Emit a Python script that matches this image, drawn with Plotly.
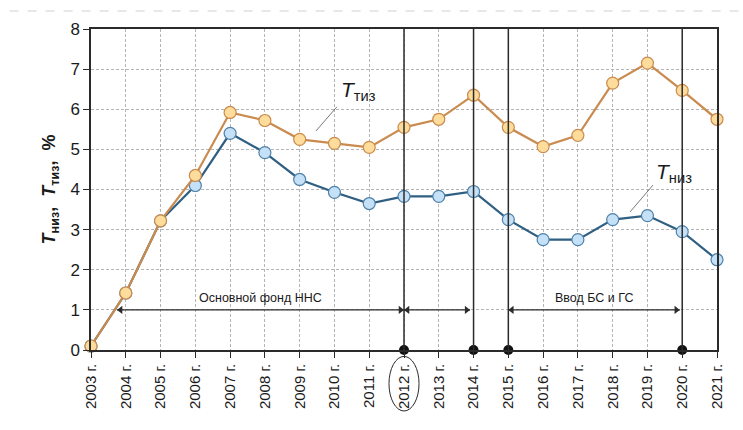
import plotly.graph_objects as go

# Годы и значения показателей, %
years = list(range(2003, 2022))
year_labels = [f"{y} г." for y in years]
t_tiz = [0.1, 1.42, 3.22, 4.35, 5.92, 5.72, 5.25, 5.15, 5.05, 5.55,
         5.75, 6.35, 5.55, 5.07, 5.35, 6.65, 7.15, 6.47, 5.75]
t_niz = [0.1, 1.42, 3.22, 4.1, 5.4, 4.92, 4.25, 3.93, 3.65, 3.83,
         3.83, 3.95, 3.25, 2.75, 2.75, 3.25, 3.35, 2.95, 2.25]
y_ticks = list(range(0, 9))

# Границы периодов разработки
milestones = [2012, 2014, 2015, 2020]
periods = [
    {"start": 2003.75, "end": 2012, "label": "Основной фонд ННС"},
    {"start": 2012, "end": 2013.9, "label": ""},
    {"start": 2015, "end": 2019.93, "label": "Ввод БС и ГС"},
]
period_arrow_level = 1.0
period_label_level = 1.3

FONT = "Liberation Sans, Arial, sans-serif"
DARK = "#2b2b2b"
ARROW_TIP = 0.1  # половина ширины наконечника в единицах оси X

fig = go.Figure()

fig.add_trace(go.Scatter(
    x=years, y=t_niz, mode="lines+markers", cliponaxis=False,
    line=dict(color="#2f5f82", width=2.2),
    marker=dict(size=12, color="#c5e1f7", line=dict(color="#4f80a8", width=1.2)),
    showlegend=False,
))
fig.add_trace(go.Scatter(
    x=years, y=t_tiz, mode="lines+markers", cliponaxis=False,
    line=dict(color="#c98b4e", width=2.2),
    marker=dict(size=12, color="#fddc9c", line=dict(color="#c98b4e", width=1.2)),
    showlegend=False,
))

# Вертикальные границы периодов и точки на оси
for yr in milestones:
    fig.add_shape(type="line", xref="x", yref="y", x0=yr, x1=yr, y0=0, y1=8,
                  line=dict(color=DARK, width=1.5), layer="above")
fig.add_trace(go.Scatter(
    x=milestones, y=[0] * len(milestones), mode="markers", cliponaxis=False,
    marker=dict(size=10, color="#111111"), showlegend=False,
))

# Двусторонние стрелки периодов и подписи
for p in periods:
    fig.add_trace(go.Scatter(
        x=[p["start"], p["end"]], y=[period_arrow_level] * 2, mode="lines",
        line=dict(color=DARK, width=1.1), showlegend=False, hoverinfo="skip",
    ))
    fig.add_trace(go.Scatter(
        x=[p["start"] + ARROW_TIP, p["end"] - ARROW_TIP], y=[period_arrow_level] * 2,
        mode="markers", showlegend=False, hoverinfo="skip",
        marker=dict(symbol=["triangle-left", "triangle-right"], size=7, color=DARK,
                    line=dict(width=0)),
    ))
    if p["label"]:
        fig.add_annotation(
            x=(p["start"] + p["end"]) / 2, y=period_label_level, xref="x", yref="y",
            text=p["label"], showarrow=False,
            font=dict(family=FONT, size=12.5, color="#1a1a1a"),
        )

# Подписи кривых с выносками
fig.add_shape(type="line", xref="x", yref="y", x0=2009.47, y0=5.46, x1=2010.07, y1=6.06,
              line=dict(color="#555555", width=0.8))
fig.add_annotation(x=2010.12, y=6.45, xref="x", yref="y", xanchor="left",
                   text="<i>T</i><sub>тиз</sub>", showarrow=False,
                   font=dict(family=FONT, size=21, color="#1a1a1a"))
fig.add_shape(type="line", xref="x", yref="y", x0=2018.5, y0=3.44, x1=2019.16, y1=4.11,
              line=dict(color="#555555", width=0.8))
fig.add_annotation(x=2019.2, y=4.4, xref="x", yref="y", xanchor="left",
                   text="<i>T</i><sub>низ</sub>", showarrow=False,
                   font=dict(family=FONT, size=21, color="#1a1a1a"))

# Выделение 2012 года на оси
cx = (2012 - years[0]) / (years[-1] - years[0])
fig.add_shape(type="circle", xref="paper", yref="paper",
              x0=cx - 0.024, x1=cx + 0.024, y0=-0.19, y1=-0.02,
              line=dict(color=DARK, width=1))

# Верхняя пунктирная линия страницы
fig.add_shape(type="line", xref="paper", yref="paper", x0=-0.13, x1=1.04,
              y0=1.056, y1=1.056, line=dict(color="#d0d0d0", width=1, dash="dash"))

fig.update_xaxes(
    range=[years[0], years[-1]], tickmode="array", tickvals=years, ticktext=year_labels,
    tickangle=-90, tickfont=dict(family=FONT, size=15, color="#1a1a1a"),
    ticks="outside", ticklen=6, tickcolor=DARK,
    showline=True, linecolor=DARK, linewidth=1.5, mirror=True,
    showgrid=True, gridcolor="#b5b5b5", griddash="3px,2px", gridwidth=1,
    zeroline=False,
)
fig.update_yaxes(
    range=[0, 8], tickmode="array", tickvals=y_ticks,
    tickfont=dict(family=FONT, size=17, color="#1a1a1a"),
    ticks="outside", ticklen=6, tickcolor=DARK,
    showline=True, linecolor=DARK, linewidth=1.5, mirror=True,
    showgrid=True, gridcolor="#b5b5b5", griddash="3px,2px", gridwidth=1,
    zeroline=False,
    title=dict(text="<b><i>T</i></b><b><sub>низ</sub>,  <i>T</i><sub>тиз</sub>,  %</b>",
               font=dict(family=FONT, size=18, color="#1a1a1a"), standoff=10),
)

fig.update_layout(
    width=743, height=430,
    margin=dict(l=91, r=26, t=29, b=80),
    paper_bgcolor="white", plot_bgcolor="white",
    showlegend=False,
)

fig.write_html("out.html")
